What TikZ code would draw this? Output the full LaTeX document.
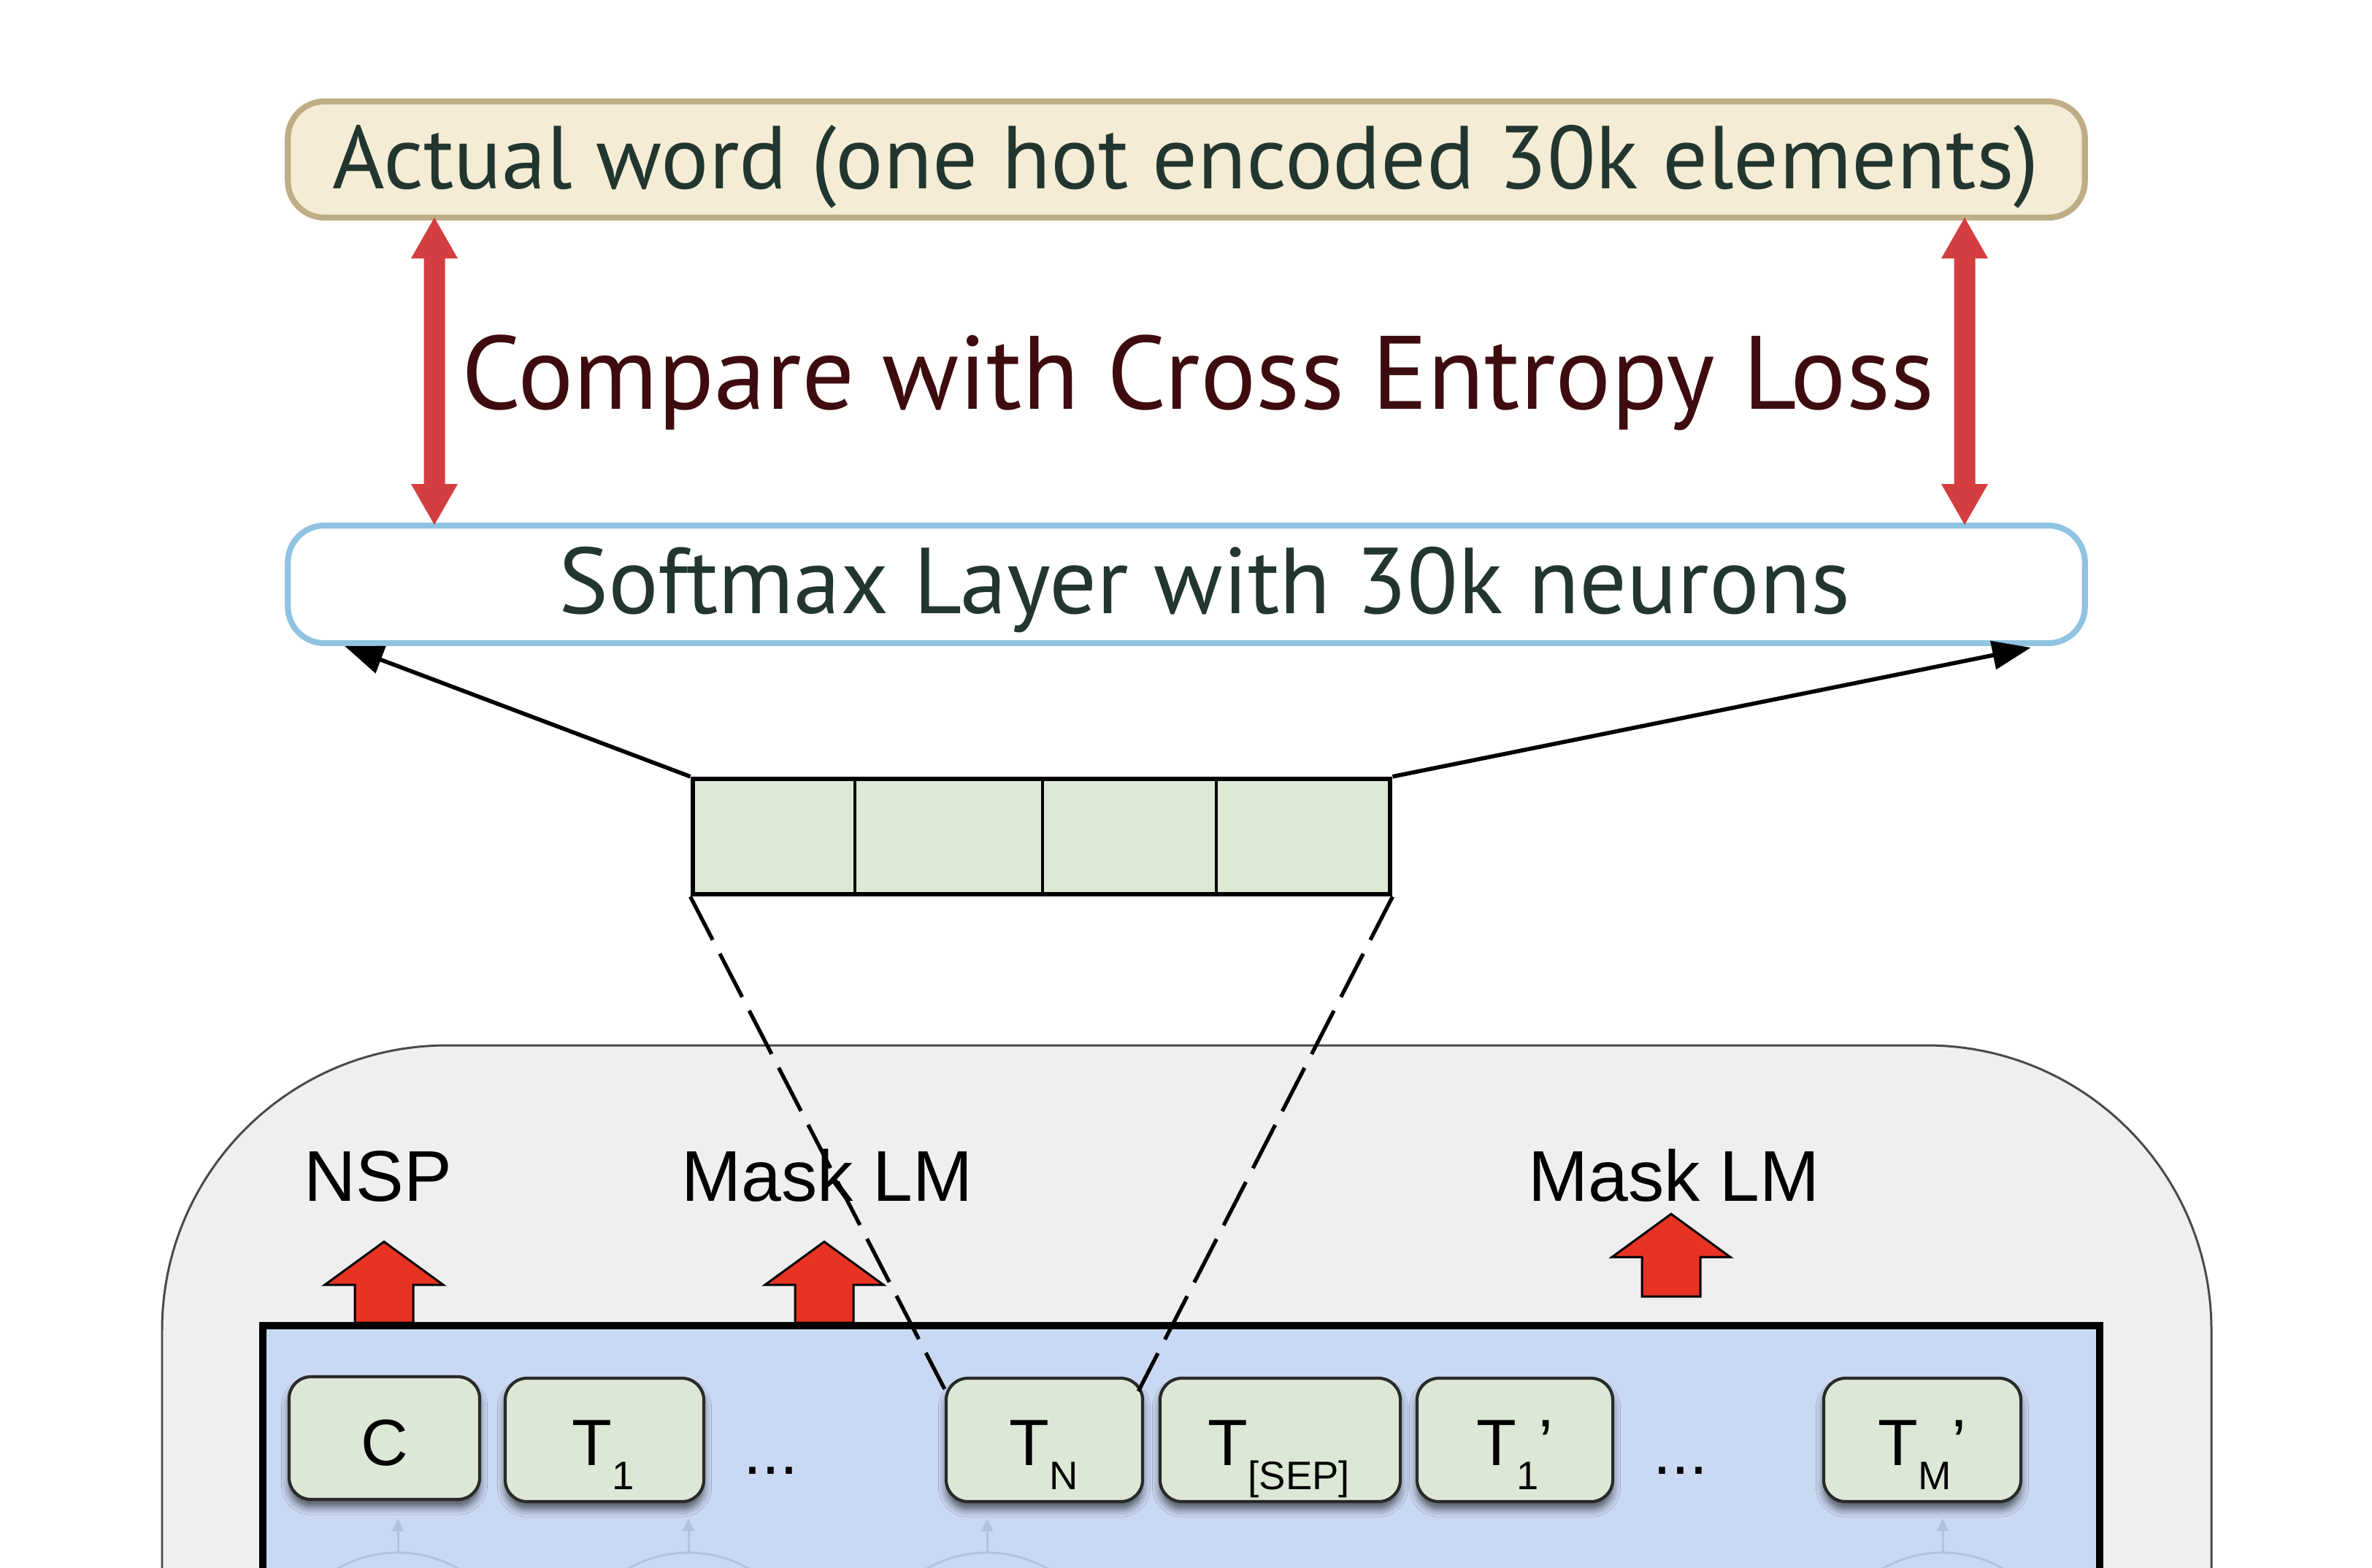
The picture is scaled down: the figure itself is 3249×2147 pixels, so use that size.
\documentclass[tikz,border=0pt]{standalone}
\usepackage{fontspec}
\newfontfamily\myr{PT Sans}
\newfontfamily\arl{Liberation Sans}
\usetikzlibrary{arrows.meta,calc,shadows.blur}
\definecolor{cream}{HTML}{F4ECD5}
\definecolor{tan}{HTML}{BEAD85}
\definecolor{txt}{HTML}{22362F}
\definecolor{maroon}{HTML}{3E0C0E}
\definecolor{redarr}{HTML}{D43E40}
\definecolor{smblue}{HTML}{8FC3E1}
\definecolor{vecfill}{HTML}{DDE8D5}
\definecolor{greyfill}{HTML}{EFEFEF}
\definecolor{greyline}{HTML}{4A4A4A}
\definecolor{bluefill}{HTML}{CAD9F3}
\definecolor{tokfill}{HTML}{DCE8D5}
\definecolor{tokline}{HTML}{2A2A2A}
\definecolor{blockred}{HTML}{E83323}
\definecolor{faint}{HTML}{B3C2DC}
\newcommand{\subt}[1]{\raisebox{-9.4pt}{\fontsize{15.5}{16}\selectfont #1}}
\begin{document}
\begin{tikzpicture}[x=0.01cm,y=-0.01cm,
  bigbox/.style={line width=2.3pt, rounded corners=0.5cm, minimum width=24.6cm, inner sep=0pt},
  bigtext/.style={anchor=base, text=txt, inner sep=0pt},
  tokbox/.style={draw=tokline, fill=tokfill, line width=1.2pt, rounded corners=0.3cm, inner sep=0pt,
     blur shadow={shadow xshift=0pt, shadow yshift=-3pt, shadow blur radius=3pt, shadow opacity=60}},
  toklabel/.style={anchor=base, inner sep=0pt, font=\arl\fontsize{25.5}{28}\selectfont},
  headlabel/.style={anchor=base, inner sep=0pt, font=\arl\fontsize{28}{30}\selectfont},
  blockarrow/.style={fill=blockred, draw=black, line width=0.85pt, line join=miter},
  solidarrow/.style={draw=black, line width=1.6pt, -{Triangle[length=15pt,width=11pt]}},
  dashline/.style={draw=black, line width=1.5pt, dash pattern=on 19pt off 6pt},
  faintline/.style={draw=faint, line width=0.85pt},
  redfill/.style={fill=redarr}
]
\useasboundingbox (0,0) rectangle (3249,2147);
\clip (0,0) rectangle (3249,2147);

% top box
\node[bigbox, draw=tan, fill=cream, minimum height=1.59cm] (act) at (1625,218.5) {};
\node[bigtext, font=\myr\fontsize{34.8}{40}\selectfont] (actt) at (1624,258) {Actual word (one hot encoded 30k elements)};

% compare text
\node[anchor=base, inner sep=0pt, text=maroon, font=\myr\fontsize{40.6}{46}\selectfont] (cmp) at (1641,560) {Compare with Cross Entropy Loss};

% softmax box
\node[bigbox, draw=smblue, fill=white, minimum height=1.61cm] (sm) at (1625,800.5) {};
\node[bigtext, font=\myr\fontsize{36.5}{42}\selectfont] (smt) at (1650,840) {Softmax Layer with 30k neurons};

% red double arrows
\fill[redfill] (595,298) -- (627,354) -- (609.5,354) -- (609.5,663) -- (627,663) -- (595,719)
  -- (563,663) -- (580.5,663) -- (580.5,354) -- (563,354) -- cycle;
\fill[redfill] (2691,298) -- (2723,354) -- (2705.5,354) -- (2705.5,663) -- (2723,663) -- (2691,719)
  -- (2659,663) -- (2676.5,663) -- (2676.5,354) -- (2659,354) -- cycle;

% vector
\node[draw=black, fill=vecfill, line width=1.8pt, minimum width=9.55cm, minimum height=1.58cm, inner sep=0pt] (vec) at (1426.5,1146) {};
\draw[line width=1.4pt] (1171,1067) -- (1171,1225);
\draw[line width=1.4pt] (1428,1067) -- (1428,1225);
\draw[line width=1.4pt] (1666,1067) -- (1666,1225);

\coordinate (sml) at ($(sm.south west)+(82,0)$);
\coordinate (smr) at ($(sm.south east)+(-78,2)$);
\draw[solidarrow] (vec.north west) -- (sml);
\draw[solidarrow] (vec.north east) -- (smr);

% grey outer box
\draw[fill=greyfill, draw=greyline, line width=0.85pt, rounded corners=3.9cm] (222,1432) rectangle (3029,2900);
% blue inner box
\draw[fill=bluefill, draw=black, line width=3.1pt] (360,1816) rectangle (2876,2500);

% block arrows
\draw[blockarrow] (526,1701) -- (607,1760) -- (566,1760) -- (566,1812) -- (486,1812) -- (486,1760) -- (445,1760) -- cycle;
\draw[blockarrow] (1129,1701) -- (1210,1760) -- (1169,1760) -- (1169,1812) -- (1089,1812) -- (1089,1760) -- (1048,1760) -- cycle;
\draw[blockarrow] (2289,1663) -- (2370,1722) -- (2329,1722) -- (2329,1776) -- (2249,1776) -- (2249,1722) -- (2208,1722) -- cycle;

\node[headlabel] (nsp) at (518,1645) {NSP};
\node[headlabel] (mlm1) at (1133,1645) {Mask LM};
\node[headlabel] (mlm2) at (2293,1645) {Mask LM};

% faint lower elements
\foreach \xx in {545,943,1352,2661}{
  \draw[faintline, -{Triangle[length=5pt,width=4.5pt]}] (\xx,2127) -- (\xx,2080);
  \draw[faintline] (\xx,2293) circle[radius=1.66cm];
}

% token boxes
\node[tokbox, minimum width=2.61cm, minimum height=1.68cm] (c) at (526.5,1970) {};
\node[tokbox, minimum width=2.72cm, minimum height=1.69cm] (t1) at (828,1972.5) {};
\node[tokbox, minimum width=2.69cm, minimum height=1.69cm] (tn) at (1430.5,1972.5) {};
\node[tokbox, minimum width=3.29cm, minimum height=1.69cm] (tsep) at (1753.5,1972.5) {};
\node[tokbox, minimum width=2.68cm, minimum height=1.69cm] (t1p) at (2075,1972.5) {};
\node[tokbox, minimum width=2.70cm, minimum height=1.69cm] (tmp) at (2633,1972.5) {};

\node[toklabel] (cl) at (527,2007) {C};
\node[toklabel] (t1l) at (826,2007) {T\subt{1}};
\node[toklabel] (tnl) at (1430,2007) {T\subt{N}};
\node[toklabel] (tsepl) at (1752,2007) {T\subt{[SEP]}};
\node[toklabel] (t1pl) at (2075,2007) {T\subt{1}’};
\node[toklabel] (tmpl) at (2633,2007) {T\subt{M}’};
\node[toklabel] (dots1) at (1056,2019) {...};
\node[toklabel] (dots2) at (2302,2019) {...};

% dashed projection lines
\draw[dashline] (vec.south west) -- ($(tn.north west)+(0,17)$);
\draw[dashline] (vec.south east) -- ($(tn.north east)+(-8,20)$);
\end{tikzpicture}
\end{document}
